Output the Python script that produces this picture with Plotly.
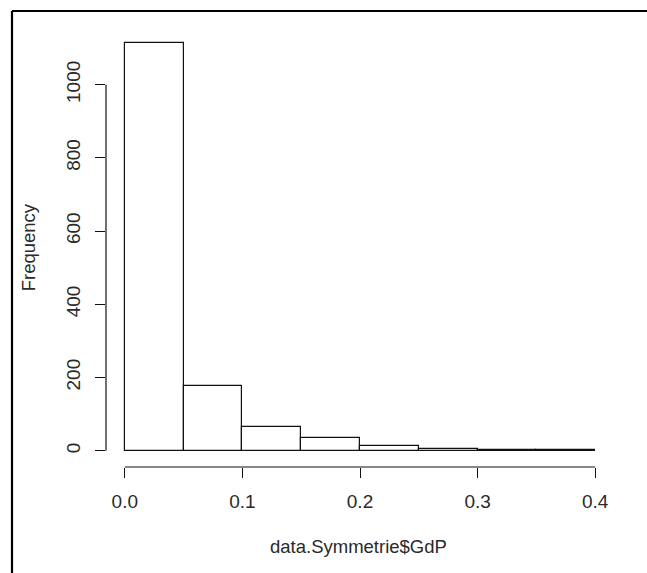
import plotly.graph_objects as go

# Histogram of data.Symmetrie$GdP, bins of width 0.05
bin_starts = [0.00, 0.05, 0.10, 0.15, 0.20, 0.25, 0.30, 0.35]
bin_width = 0.05
counts = [1113, 176, 64, 35, 13, 5, 2, 1]

y_ticks = [0, 200, 400, 600, 800, 1000]
x_ticks = [0.0, 0.1, 0.2, 0.3, 0.4]

W, H = 647, 573
L, R, T, B = 106, 33, 27, 106
PW, PH = W - L - R, H - T - B


def px_x(p):
    return (p - L) / PW


def px_y(p):
    return (H - B - p) / PH


font = dict(family="Liberation Sans, Arial, sans-serif", size=18.5, color="#2a2a2a")
tick_font = dict(family="Liberation Sans, Arial, sans-serif", size=19, color="#2a2a2a")

centers = [s + bin_width / 2 for s in bin_starts]

fig = go.Figure(
    go.Bar(
        x=centers,
        y=counts,
        width=bin_width,
        marker=dict(color="white", line=dict(color="#111111", width=1.2)),
        hoverinfo="x+y",
    )
)

fig.update_layout(
    width=W,
    height=H,
    margin=dict(l=L, r=R, t=T, b=B),
    paper_bgcolor="white",
    plot_bgcolor="white",
    showlegend=False,
    font=font,
    bargap=0,
    xaxis=dict(
        range=[-0.016, 0.416],
        tickvals=x_ticks,
        ticktext=[f"{v:.1f}" for v in x_ticks],
        ticks="outside",
        ticklen=10,
        tickwidth=1.2,
        tickcolor="#111111",
        showgrid=False,
        zeroline=False,
        showline=False,
        tickfont=tick_font,
        ticklabelstandoff=7,
    ),
    yaxis=dict(
        range=[-44.5, 1157.5],
        tickvals=y_ticks,
        ticktext=[str(v) for v in y_ticks],
        tickangle=-90,
        ticks="outside",
        ticklen=10,
        tickwidth=1.2,
        tickcolor="#111111",
        showgrid=False,
        zeroline=False,
        showline=False,
        tickfont=tick_font,
        ticklabelstandoff=7,
    ),
    annotations=[
        dict(
            text="data.Symmetrie$GdP",
            xref="paper", yref="paper",
            x=px_x(358), y=px_y(546.7),
            xanchor="center", yanchor="middle",
            showarrow=False, font=font,
        ),
        dict(
            text="Frequency",
            xref="paper", yref="paper",
            x=px_x(28.3), y=px_y(247),
            xanchor="center", yanchor="middle",
            textangle=-90,
            showarrow=False, font=font,
        ),
    ],
    shapes=[
        # axis spines spanning only the tick range
        dict(type="line", xref="paper", yref="y", x0=0, x1=0,
             y0=y_ticks[0], y1=y_ticks[-1], line=dict(color="#111111", width=1.2)),
        dict(type="line", xref="x", yref="paper", x0=x_ticks[0], x1=x_ticks[-1],
             y0=0, y1=0, line=dict(color="#111111", width=1.2)),
        # outer frame (top and left edges)
        dict(type="line", xref="paper", yref="paper",
             x0=px_x(12), x1=px_x(12), y0=px_y(H + 2), y1=px_y(11),
             line=dict(color="black", width=2.2)),
        dict(type="line", xref="paper", yref="paper",
             x0=px_x(12), x1=px_x(W + 2), y0=px_y(11), y1=px_y(11),
             line=dict(color="black", width=2.2)),
    ],
)

fig.write_html("out.html")
